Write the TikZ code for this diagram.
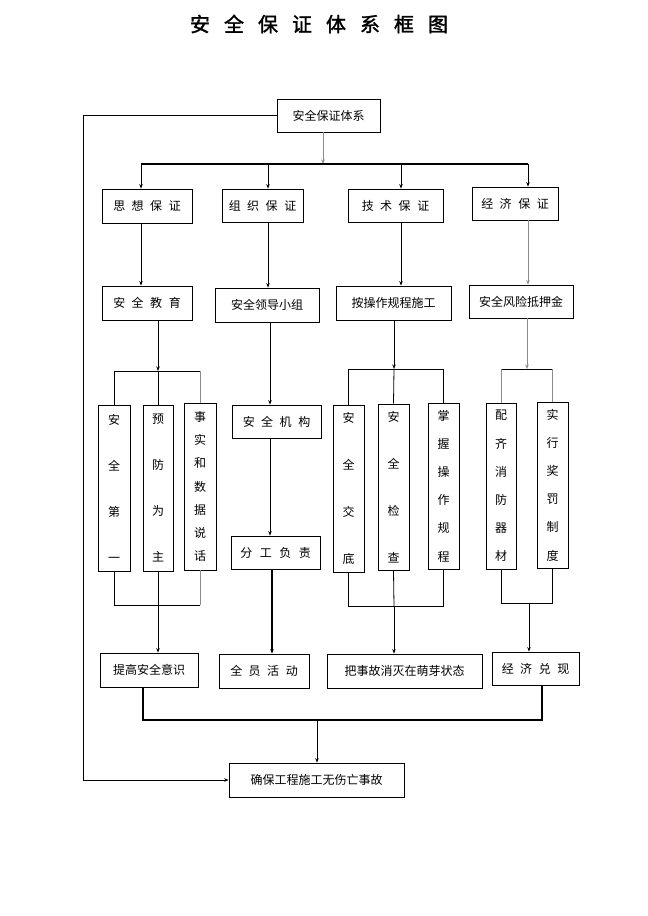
\documentclass[tikz,border=0pt]{standalone}
\usepackage{fontspec}
\setmainfont{Noto Sans CJK SC}
\newfontfamily\titlefont[FakeBold=1.6]{Noto Sans CJK SC}
\usetikzlibrary{arrows.meta}
\newcommand{\gx}{\hspace{6.5pt}}
\newcommand{\gt}{\hspace{14pt}}
\begin{document}
\begin{tikzpicture}[x=1pt,y=-1pt,
  box/.style={draw, line width=0.8pt, inner sep=0pt, font=\fontsize{12}{14}\selectfont},
  sz/.style 2 args={minimum width=#1pt, minimum height=#2pt},
  vbox/.style={box, align=center},
  ln/.style={line width=0.8pt},
  thk/.style={line width=1.3pt},
  gry/.style={draw=black!45},
  arr/.style={ln, -{Stealth[length=4.5pt,width=3.5pt]}},
]
\useasboundingbox[fill=white] (0,0) rectangle (648,916);

% title
\node[font=\titlefont\fontsize{20}{24}\selectfont] (title) at (319,24) {安\gt 全\gt 保\gt 证\gt 体\gt 系\gt 框\gt 图};

% top
\node[box, sz={103}{33}] (top) at (328.5,115.5) {安全保证体系};

% level 2
\node[box, sz={90}{34}] (sx) at (147,206) {思\gx 想\gx 保\gx 证};
\node[box, sz={81}{33}] (zz) at (262.5,205.5) {组\gx 织\gx 保\gx 证};
\node[box, sz={95}{33}] (js) at (395.5,205.5) {技\gx 术\gx 保\gx 证};
\node[box, sz={86}{33}] (jj) at (515,203.5) {经\gx 济\gx 保\gx 证};

% level 3
\node[box, sz={90}{34}] (aqjy) at (147,303) {安\gx 全\gx 教\gx 育};
\node[box, sz={104}{34}] (ldxz) at (267,305) {安全领导小组};
\node[box, sz={115}{34}] (acz) at (393.5,303) {按操作规程施工};
\node[box, sz={104}{33}] (fx) at (521,301.5) {安全风险抵押金};

% vertical boxes
\node[vbox, sz={32}{166}, font=\fontsize{12}{46}\selectfont] (v1) at (114,488) {安\\全\\第\\一};
\node[vbox, sz={30}{166}, font=\fontsize{12}{46}\selectfont] (v2) at (158,488) {预\\防\\为\\主};
\node[vbox, sz={32}{167}, font=\fontsize{12}{23.3}\selectfont] (v3) at (200,486.5) {事\\实\\和\\数\\据\\说\\话};

\node[box, sz={89}{33}] (aqjg) at (276.5,421.5) {安\gx 全\gx 机\gx 构};
\node[box, sz={89}{33}] (fgfz) at (275.5,552.5) {分\hspace{7.5pt}工\hspace{7.5pt}负\hspace{7.5pt}责};

\node[vbox, sz={31}{167}, font=\fontsize{12}{47}\selectfont] (v4) at (348.5,488.5) {安\\全\\交\\底};
\node[vbox, sz={31}{166}, font=\fontsize{12}{47}\selectfont] (v5) at (393.5,487) {安\\全\\检\\查};
\node[vbox, sz={31}{166}, font=\fontsize{12}{28.2}\selectfont] (v6) at (443.5,486) {掌\\握\\操\\作\\规\\程};

\node[vbox, sz={30}{166}, font=\fontsize{12}{28.2}\selectfont] (v7) at (501,486) {配\\齐\\消\\防\\器\\材};
\node[vbox, sz={31}{166}, font=\fontsize{12}{28.2}\selectfont] (v8) at (552.5,485) {实\\行\\奖\\罚\\制\\度};

% bottom row
\node[box, sz={98}{34}] (tgaq) at (149,670) {提高安全意识};
\node[box, sz={90}{34}] (qyhd) at (264,671) {全\gx 员\gx 活\gx 动};
\node[box, sz={155}{34}] (bsg) at (404.5,671) {把事故消灭在萌芽状态};
\node[box, sz={87}{33}] (jjdx) at (535.5,668.5) {经\gx 济\gx 兑\gx 现};

\node[box, sz={175}{34}] (qb) at (316.5,780) {确保工程施工无伤亡事故};

% coordinates for connector positions
\coordinate (b0) at (323,164);
\coordinate (b0l) at (141,164);
\coordinate (b0r) at (528,164);
\coordinate (d2) at (268,164);
\coordinate (d3) at (401,164);
\coordinate (g1) at (158,371);
\coordinate (h1) at (158,605);
\coordinate (x2) at (270,0);
\coordinate (x2b) at (272,0);
\coordinate (g3) at (394,369);
\coordinate (h3) at (394,606);
\coordinate (g4) at (527,369);
\coordinate (h4) at (529,603);
\coordinate (c1) at (143,720);
\coordinate (c2) at (542,720);
\coordinate (cm) at (317,720);
\coordinate (f1) at (83,115);

% top to level 2
\draw[arr, gry] (top.south -| b0) -- (b0);
\draw[thk] (b0l) -- (b0r);
\draw[arr] (b0l) -- (sx.north -| b0l);
\draw[arr] (d2) -- (zz.north -| d2);
\draw[arr] (d3) -- (js.north -| d3);
\draw[arr] (b0r) -- (jj.north -| b0r);

% level 2 to level 3
\draw[arr] (sx.south -| b0l) -- (aqjy.north -| b0l);
\draw[arr] (zz.south -| d2) -- (ldxz.north -| d2);
\draw[arr] (js.south -| d3) -- (acz.north -| d3);
\draw[arr, gry] (jj.south -| b0r) -- (fx.north -| b0r);

% group 1
\draw[arr] (aqjy.south -| g1) -- (g1);
\draw[ln] (v1.north) -- (v1.north |- g1) -- (v3.north |- g1);
\draw[ln, gry] (v3.north |- g1) -- (v3.north);
\draw[ln] (g1) -- (v2.north);
\draw[ln] (v1.south) -- (v1.south |- h1) -- (v3.south |- h1);
\draw[ln, gry] (v3.south |- h1) -- (v3.south);
\draw[ln] (v2.south) -- (h1);
\draw[arr] (h1) -- (tgaq.north -| h1);

% group 2
\draw[arr] (ldxz.south -| x2) -- (aqjg.north -| x2);
\draw[arr] (aqjg.south -| x2) -- (fgfz.north -| x2);
\draw[thk, -{Stealth[length=4.5pt,width=3.5pt]}] (fgfz.south -| x2b) -- (qyhd.north -| x2b);

% group 3
\draw[arr] (acz.south -| g3) -- (g3);
\draw[ln] (v4.north) -- (v4.north |- g3) -- (v6.north |- g3) -- (v6.north);
\draw[ln] (g3) -- (v5.north);
\draw[ln] (v4.south) -- (v4.south |- h3) -- (v6.south |- h3) -- (v6.south);
\draw[ln] (v5.south) -- (h3);
\draw[arr] (h3) -- (bsg.north -| h3);

% group 4
\draw[arr, gry] (fx.south -| g4) -- (g4);
\draw[ln] (v7.north |- g4) -- (v8.north |- g4);
\draw[ln, gry] (v7.north |- g4) -- (v7.north);
\draw[ln, gry] (v8.north |- g4) -- (v8.north);
\draw[ln] (v7.south) -- (v7.south |- h4) -- (v8.south |- h4) -- (v8.south);
\draw[arr] (h4) -- (jjdx.north -| h4);

% collector
\draw[thk] (tgaq.south -| c1) -- (c1) -- (c2) -- (jjdx.south -| c2);
\draw[arr] (cm) -- (qb.north -| cm);

% feedback
\draw[arr] (top.west) -- (top.west -| f1) -- (f1 |- qb.west) -- (qb.west);
\end{tikzpicture}
\end{document}
